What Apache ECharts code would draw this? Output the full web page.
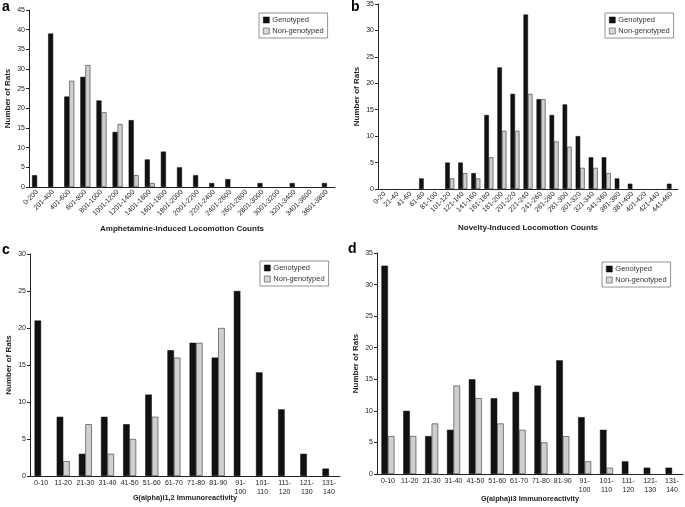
<!DOCTYPE html>
<html><head><meta charset="utf-8">
<script src="https://cdn.jsdelivr.net/npm/echarts@6/dist/echarts.min.js"></script>
<style>html,body{margin:0;padding:0;background:#fff}#c{width:685px;height:507px}</style>
</head><body><div id="c"></div>
<script>
const catsA = ['0-200','201-400','401-600','601-800','801-1000','1001-1200','1201-1400','1401-1600','1601-1800','1801-2000','2001-2200','2201-2400','2401-2600','2601-2800','2801-3000','3001-3200','3201-3400','3401-3600','3601-3800'];
const genA = [3,39,23,28,22,14,17,7,9,5,3,1,2,0,1,0,1,0,1];
const nonA = [0,0,27,31,19,16,3,1,0,0,0,0,0,0,0,0,0,0,0];

const catsB = ['0-20','21-40','41-60','61-80','81-100','101-120','121-140','141-160','161-180','181-200','201-220','221-240','241-260','261-280','281-300','301-320','321-340','341-360','361-380','381-400','401-420','421-440','441-460'];
const genB = [0,0,0,2,0,5,5,3,14,23,18,33,17,14,16,10,6,6,2,1,0,0,1];
const nonB = [0,0,0,0,0,2,3,2,6,11,11,18,17,9,8,4,4,3,0,0,0,0,0];

const catsCD = ['0-10','11-20','21-30','31-40','41-50','51-60','61-70','71-80','81-90','91-\n100','101-\n110','111-\n120','121-\n130','131-\n140'];
const genC = [21,8,3,8,7,11,17,18,16,25,14,9,3,1];
const nonC = [0,2,7,3,5,8,16,18,20,0,0,0,0,0];
const genD = [33,10,6,7,15,12,13,14,18,9,7,2,1,1];
const nonD = [6,6,8,14,12,8,7,5,6,2,1,0,0,0];

const titlesX = ['Amphetamine-Induced Locomotion Counts','Novelty-Induced Locomotion Counts','G(alpha)i1,2 Immunoreactivity','G(alpha)i3 Immunoreactivity'];
const yMax = [45,35,30,35];

const FONT = 'Liberation Sans, Arial, sans-serif';
const AX = '#222';
const grids = [
  {left:29, top:10, width:306, height:177},
  {left:378, top:4, width:300, height:185},
  {left:30, top:254, width:310, height:222},
  {left:377, top:253, width:306, height:221}
];
const cats = [catsA, catsB, catsCD, catsCD];
const gens = [genA, genB, genC, genD];
const nons = [nonA, nonB, nonC, nonD];
const bw = [5, 4.5, 6.5, 6.5];
const nameGaps = [38, 35, 18, 21];
const nameSizes = [8, 8, 7.3, 7.3];
const noZero = arr => arr.map(v => v === 0 ? '-' : v);

const xAxis = [], yAxis = [], series = [], legend = [];
for (let i = 0; i < 4; i++) {
  const rot = i < 2;
  xAxis.push({
    type:'category', gridIndex:i, data:cats[i],
    name:titlesX[i], nameLocation:'middle', nameGap:nameGaps[i], nameMoveOverlap:false,
    nameTextStyle:{fontFamily:FONT, fontSize:nameSizes[i], fontWeight:'bold', color:'#222'},
    axisLine:{lineStyle:{color:AX, width:1}},
    axisTick:{length:3, lineStyle:{color:AX}},
    axisLabel:{interval:0, rotate: rot ? 45 : 0, fontFamily:FONT, fontSize:7, color:'#222', margin: rot ? 4 : 3, lineHeight:9}
  });
  yAxis.push({
    type:'value', gridIndex:i, min:0, max:yMax[i], interval:5,
    name:'Number of Rats', nameLocation:'middle', nameGap:17, nameMoveOverlap:false,
    nameTextStyle:{fontFamily:FONT, fontSize:8, fontWeight:'bold', color:'#222'},
    axisLine:{show:true, lineStyle:{color:AX, width:1}},
    axisTick:{show:true, length:3, lineStyle:{color:AX}},
    splitLine:{show:false},
    axisLabel:{fontFamily:FONT, fontSize:7, color:'#222', margin:4}
  });
  series.push({
    name:'Genotyped', type:'bar', xAxisIndex:i, yAxisIndex:i, data:noZero(gens[i]),
    barWidth:bw[i], barGap:'0%',
    itemStyle:{color:'#111', borderColor:'#000', borderWidth:0.5}
  });
  series.push({
    name:'Non-genotyped', type:'bar', xAxisIndex:i, yAxisIndex:i, data:noZero(nons[i]),
    barWidth:bw[i], barGap:'0%',
    itemStyle:{color:'#cfcfcf', borderColor:'#333', borderWidth:0.6}
  });
}
const legPos = [[259,13],[605,13],[260,261],[602,262]];
for (let i = 0; i < 4; i++) {
  legend.push({
    left:legPos[i][0], top:legPos[i][1], orient:'vertical',
    data:[{name:'Genotyped', itemStyle:{color:'#111', borderColor:'#000', borderWidth:0.5}},
          {name:'Non-genotyped', itemStyle:{color:'#d8d8d8', borderColor:'#444', borderWidth:0.6}}],
    icon:'rect', itemWidth:6, itemHeight:6, itemGap:3,
    padding:[3,4,3,4], borderColor:'#777', borderWidth:0.8, backgroundColor:'#fff',
    textStyle:{fontFamily:FONT, fontSize:7.5, color:'#333', padding:[0,0,0,-2]},
    selectedMode:false
  });
}
const letters = [['a',2,0],['b',351,0],['c',2,243],['d',348,242]];
const chart = echarts.init(document.getElementById('c'), null, {renderer:'canvas'});
chart.setOption({
  animation:false,
  backgroundColor:'#fff',
  grid:grids,
  xAxis, yAxis, series, legend,
  graphic: letters.map(l => ({type:'text', left:l[1], top:l[2], style:{text:l[0], font:'bold 14px ' + FONT, fill:'#000'}}))
});
</script></body></html>
